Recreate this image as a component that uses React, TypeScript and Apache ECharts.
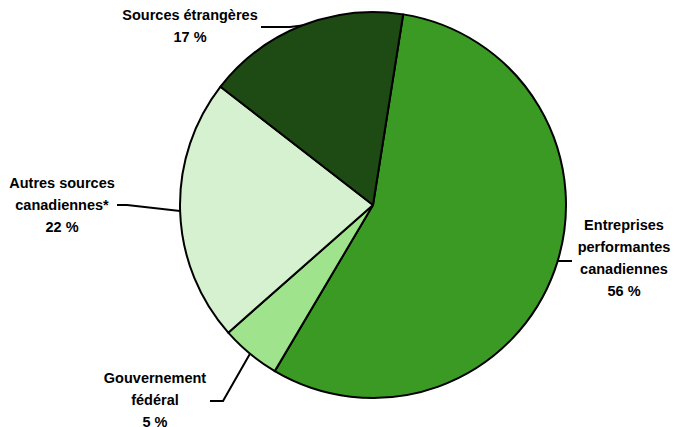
import React, { useEffect, useRef } from "react";
import * as echarts from "echarts";

const categories = [
  "Entreprises\nperformantes\ncanadiennes",
  "Gouvernement\nfédéral",
  "Autres sources\ncanadiennes*",
  "Sources étrangères",
];
const values = [56, 5, 22, 17];
const colors = ["#3a9a24", "#9fe38c", "#d5f1cf", "#1d4b13"];

const CX = 373;
const CY = 205;
const R = 193;

// label anchor (text block centre) and leader line anchor points
const labelAnchors: any[] = [
  { x: 624, y: 258, elbow: [572, 261], end: [572, 261], edgeY: 261 },
  { x: 155, y: 400, elbow: [223, 401], end: [210, 401] },
  { x: 62, y: 205, elbow: [127, 205], end: [117, 205] },
  { x: 190, y: 26, elbow: [290, 27], end: [261, 27] },
];

export default function App() {
  const ref = useRef<HTMLDivElement>(null);
  useEffect(() => {
    if (!ref.current) return;
    const chart = echarts.init(ref.current, null, { renderer: "svg" });
    chart.setOption({
      animation: false,
      backgroundColor: "#ffffff",
      series: [
        {
          type: "pie",
          center: [CX, CY],
          radius: [0, R],
          startAngle: 81,
          clockwise: true,
          avoidLabelOverlap: false,
          itemStyle: { borderColor: "#000", borderWidth: 2 },
          data: categories.map((name, i) => ({
            name,
            value: values[i],
            itemStyle: { color: colors[i] },
          })),
          label: {
            show: true,
            position: "outside",
            formatter: "{b}\n{c} %",
            fontFamily: "Liberation Sans, Arial, sans-serif",
            fontWeight: "bold",
            fontSize: 14.5,
            lineHeight: 22,
            color: "#000",
            align: "center",
          },
          labelLine: {
            show: true,
            lineStyle: { color: "#000", width: 2 },
          },
          labelLayout: (params: any) => {
            const a = labelAnchors[params.dataIndex];
            let p0 = params.labelLinePoints ? params.labelLinePoints[0] : a.elbow;
            if (a.edgeY !== undefined) {
              const dy = a.edgeY - CY;
              p0 = [CX + Math.sqrt(R * R - dy * dy) - 1, a.edgeY];
            }
            return {
              x: a.x,
              y: a.y,
              align: "center",
              verticalAlign: "middle",
              labelLinePoints: [p0, a.elbow, a.end],
            };
          },
        },
      ],
    });
    return () => chart.dispose();
  }, []);
  return (
    <div
      ref={ref}
      style={{ position: "fixed", left: 0, top: 0, width: 675, height: 427 }}
    />
  );
}
